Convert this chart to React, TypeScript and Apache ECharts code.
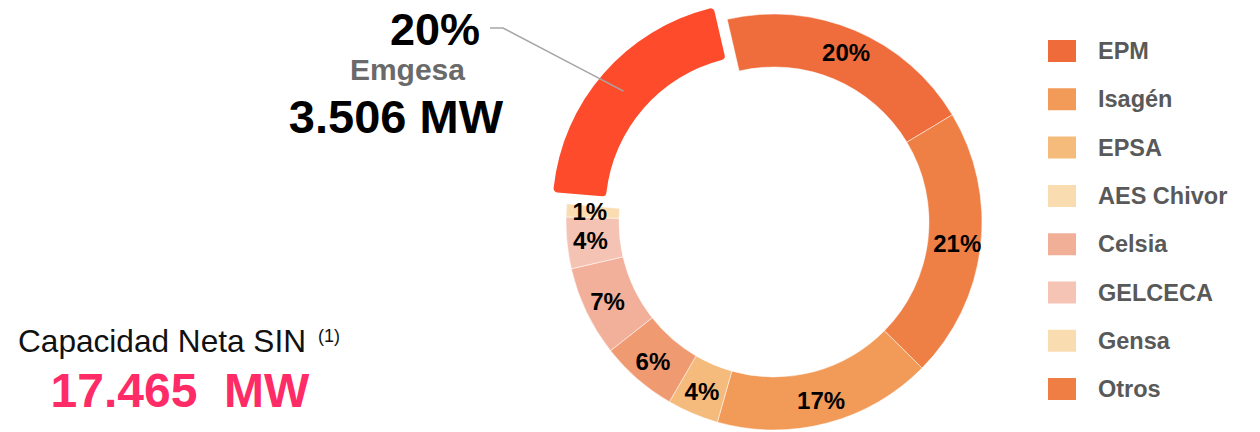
import React, { useEffect, useRef } from 'react';
import * as echarts from 'echarts';

// ---- data ----
const sliceNames = ['Emgesa', 'EPM', 'Otros', 'Isagén', 'EPSA', 'AES Chivor', 'Celsia', 'GELCECA', 'Gensa'];
const sliceShares = [20, 20, 21, 17, 4, 6, 7, 4, 1];
const sliceColors = ['#FD4B2B', '#EF6D3C', '#EE7F45', '#F29A58', '#F5BB7C', '#F09A71', '#F2B09A', '#F5C3B3', '#FADCB0'];
const legendNames = ['EPM', 'Isagén', 'EPSA', 'AES Chivor', 'Celsia', 'GELCECA', 'Gensa', 'Otros'];
const legendColors = ['#F06B3A', '#F29A58', '#F5BB7B', '#FADCB1', '#F2AF97', '#F5C4B5', '#FADCB1', '#EF7E45'];
const highlightName = 'Emgesa';
const highlightMW = '3.506 MW';
const totalTitle = 'Capacidad Neta SIN';
const totalNote = '(1)';
const totalMW = '17.465  MW';

const FONT = '"Liberation Sans", Arial, Helvetica, sans-serif';

export default function App() {
  const ref = useRef<HTMLDivElement>(null);

  useEffect(() => {
    document.body.style.margin = '0';
    if (!ref.current) return;
    const chart = echarts.init(ref.current, null, { renderer: 'svg' });

    const CX = 774;
    const CY = 222;
    const R0 = 155;
    const R1 = 208;
    const START = 175;
    const OFFSET = 18;
    const ELBOW_X = 503;
    const ELBOW_Y = 28;
    const total = sliceShares.reduce((a, b) => a + b, 0);

    // callout anchor: middle of the highlighted (pulled-out) slice
    const mid = ((START - (sliceShares[0] / total) * 180) * Math.PI) / 180;
    const rr = OFFSET + (R0 + R1) / 2;
    const px = CX + Math.cos(mid) * rr;
    const py = CY - Math.sin(mid) * rr;

    const data = sliceNames.map((name, i) => {
      if (i === 0) {
        return {
          name,
          value: sliceShares[i],
          selected: true,
          itemStyle: { color: sliceColors[i], borderRadius: 4, borderWidth: 0 },
          label: { show: false },
          labelLine: { show: false },
        };
      }
      return { name, value: sliceShares[i], itemStyle: { color: sliceColors[i] } };
    });

    chart.setOption({
      animation: false,
      textStyle: { fontFamily: FONT },
      legend: {
        orient: 'vertical',
        left: 1046,
        top: 38,
        padding: 0,
        icon: 'rect',
        itemWidth: 30,
        itemHeight: 24,
        itemGap: 22.3,
        selectedMode: false,
        formatter: '{a|{name}}',
        textStyle: {
          rich: {
            a: { fontSize: 23.5, fontWeight: 'bold', color: '#595959', fontFamily: FONT, padding: [0, 0, 0, 16] },
          },
        },
        data: legendNames.map((name, i) => ({ name, itemStyle: { color: legendColors[i] } })),
      },
      graphic: [
        {
          type: 'polyline',
          shape: { points: [[px, py], [ELBOW_X, ELBOW_Y], [ELBOW_X - 13, ELBOW_Y]] },
          style: { stroke: '#A6A6A6', lineWidth: 1.5, fill: null },
          z: 10,
        },
        {
          type: 'text',
          x: ELBOW_X - 23,
          y: ELBOW_Y + 1,
          style: { text: `${sliceShares[0]}%`, font: `bold 45px ${FONT}`, fill: '#000', align: 'right', verticalAlign: 'middle' },
        },
        {
          type: 'text',
          x: 465,
          y: 69,
          style: { text: highlightName, font: `bold 30px ${FONT}`, fill: '#6A6A6A', align: 'right', verticalAlign: 'middle' },
        },
        {
          type: 'text',
          x: 503,
          y: 116,
          style: { text: highlightMW, font: `bold 47px ${FONT}`, fill: '#000', align: 'right', verticalAlign: 'middle' },
        },
        {
          type: 'text',
          x: 18,
          y: 341,
          style: { text: totalTitle, font: `31.6px ${FONT}`, fill: '#111', align: 'left', verticalAlign: 'middle' },
        },
        {
          type: 'text',
          x: 318,
          y: 336,
          style: { text: totalNote, font: `18px ${FONT}`, fill: '#111', align: 'left', verticalAlign: 'middle' },
        },
        {
          type: 'text',
          x: 180,
          y: 390,
          style: { text: totalMW, font: `bold 48px ${FONT}`, fill: '#FE2B67', align: 'center', verticalAlign: 'middle' },
        },
      ],
      series: [
        {
          type: 'pie',
          center: [CX, CY],
          radius: [R0, R1],
          startAngle: START,
          clockwise: true,
          selectedMode: 'single',
          selectedOffset: OFFSET,
          avoidLabelOverlap: false,
          itemStyle: { borderColor: '#ffffff', borderWidth: 0.5 },
          label: {
            show: true,
            position: 'inside',
            formatter: (p: any) => `${p.value}%`,
            fontSize: 24,
            fontWeight: 'bold',
            color: '#000',
            fontFamily: FONT,
          },
          labelLine: { show: false },
          emphasis: { disabled: true },
          data,
        },
      ],
    });

    return () => chart.dispose();
  }, []);

  return <div ref={ref} style={{ width: 1260, height: 432 }} />;
}
